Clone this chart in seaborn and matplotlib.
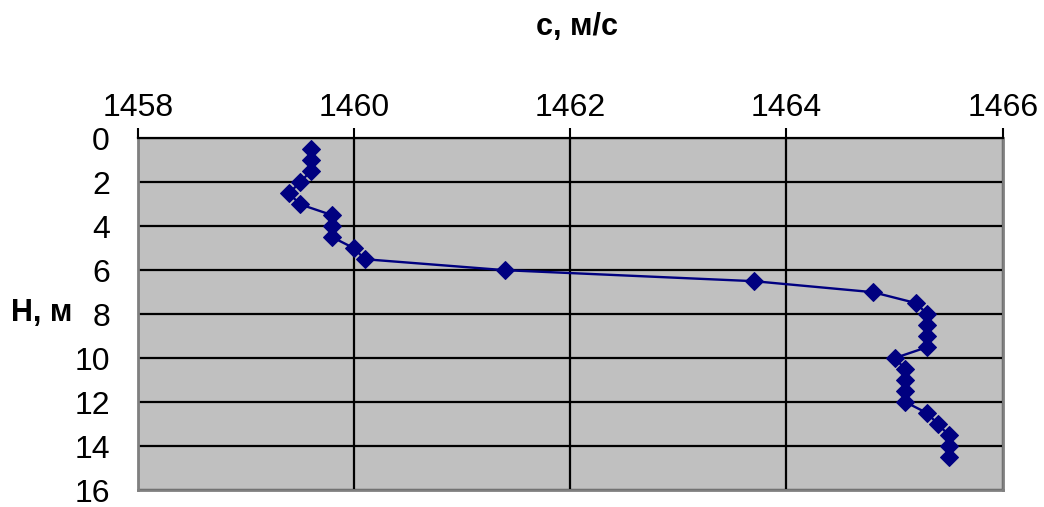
import matplotlib
matplotlib.use("Agg")
import matplotlib.pyplot as plt
import seaborn as sns
import pandas as pd

depth = [0.5, 1.0, 1.5, 2.0, 2.5, 3.0, 3.5, 4.0, 4.5, 5.0, 5.5, 6.0, 6.5, 7.0, 7.5,
         8.0, 8.5, 9.0, 9.5, 10.0, 10.5, 11.0, 11.5, 12.0, 12.5, 13.0, 13.5, 14.0, 14.5]
speed = [1459.6, 1459.6, 1459.6, 1459.5, 1459.4, 1459.5, 1459.8, 1459.8, 1459.8, 1460.0,
         1460.1, 1461.4, 1463.7, 1464.8, 1465.2, 1465.3, 1465.3, 1465.3, 1465.3, 1465.0,
         1465.1, 1465.1, 1465.1, 1465.1, 1465.3, 1465.4, 1465.5, 1465.5, 1465.5]
x_ticks = [1458, 1460, 1462, 1464, 1466]
y_ticks = [0, 2, 4, 6, 8, 10, 12, 14, 16]

sns.set_theme(style="white")
plt.rcParams['font.family'] = ['Liberation Sans', 'DejaVu Sans']
plt.rcParams['text.color'] = 'black'
plt.rcParams['xtick.color'] = 'black'
plt.rcParams['ytick.color'] = 'black'

df = pd.DataFrame({"speed": speed, "depth": depth})

fig = plt.figure(figsize=(10.44, 5.07), dpi=100)
ax = fig.add_axes([0.1319, 0.0335, 0.8286, 0.6937])
ax.set_facecolor("#C0C0C0")

sns.lineplot(data=df, x="speed", y="depth", sort=False, estimator=None, ax=ax,
             color="#000080", linewidth=1.7, marker="D", markersize=9.5,
             markeredgecolor="#000080", zorder=3)

ax.set_xlim(1458, 1466)
ax.set_ylim(16, 0)
ax.set_xticks(x_ticks)
ax.set_yticks(y_ticks)
ax.xaxis.tick_top()
ax.tick_params(axis="x", which="both", top=True, bottom=False, direction="out",
               length=7, width=1.5, color="black", labelcolor="black", labelsize=23, pad=4)
ax.tick_params(axis="y", left=False, labelsize=23, labelcolor="black", pad=14)
ax.grid(True, color="black", linewidth=1.6)
ax.set_axisbelow(True)

for side in ["left", "right", "bottom"]:
    ax.spines[side].set_color("#808080")
    ax.spines[side].set_linewidth(2)
ax.spines["top"].set_color("black")
ax.spines["top"].set_linewidth(1.6)

ax.set_xlabel("")
ax.set_ylabel("")
fig.text(0.553, 0.947, "с, м/с", ha="center", va="center", fontsize=22,
         fontweight="bold", color="black")
fig.text(0.040, 0.383, "H, м", ha="center", va="center", fontsize=22,
         fontweight="bold", color="black")

fig.savefig("out.png", dpi=100)
